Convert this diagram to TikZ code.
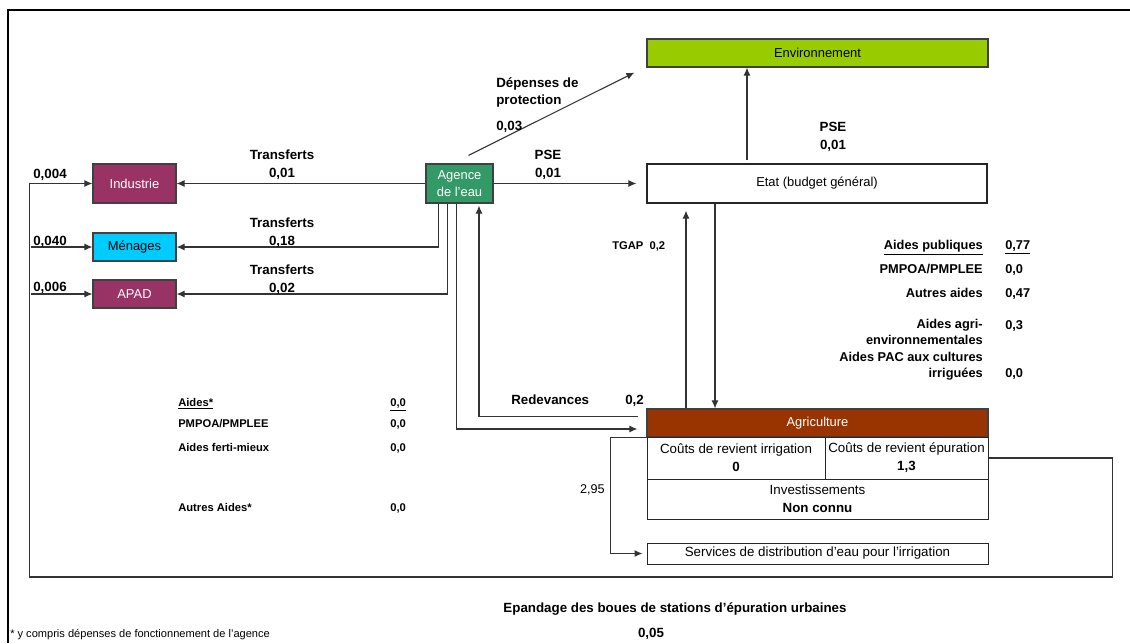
\documentclass[tikz,border=0pt]{standalone}
\usepackage{fontspec}
\setmainfont{Liberation Sans}
\usetikzlibrary{arrows.meta,calc}
\definecolor{purp}{HTML}{993366}
\definecolor{cyanb}{HTML}{00CCFF}
\definecolor{agreen}{HTML}{339966}
\definecolor{envg}{HTML}{99CC00}
\definecolor{agrr}{HTML}{993300}
\definecolor{lin}{HTML}{333333}
\begin{document}
\begin{tikzpicture}[x=0.75pt,y=-0.75pt,
  box/.style={draw=black!75, line width=0.9pt, inner sep=0pt, align=center, font=\fontsize{9.7}{12.75}\selectfont},
  cell/.style={draw=black!85, line width=0.75pt, inner sep=0pt, align=center, font=\fontsize{10}{13.5}\selectfont},
  conn/.style={draw=lin, line width=0.8pt},
  arr/.style={conn, -{Latex[length=6pt,width=5.2pt]}},
  t/.style={inner sep=0pt, text height=7pt, text depth=0pt, font=\bfseries\fontsize{10}{12}\selectfont},
  tm/.style={t, font=\bfseries\fontsize{9.6}{11}\selectfont},
  ts/.style={t, font=\bfseries\fontsize{8.4}{10}\selectfont},
  tr/.style={inner sep=0pt, text height=7pt, text depth=0pt, font=\fontsize{9.5}{11}\selectfont}
]
\useasboundingbox (0,0) rectangle (1130,643);
\fill[white] (0,0) rectangle (1130,643);
% frame
\draw[line width=1.5pt] (8,643) -- (8,10) -- (1130,10);

% boxes
\node[box, fill=purp, text=white, minimum width=62.25pt, minimum height=29.25pt] (Ind) at (134.5,183.5) {Industrie};
\node[box, fill=cyanb, minimum width=62.25pt, minimum height=21pt] (Men) at (134.5,247) {Ménages};
\node[box, fill=purp, text=white, minimum width=62.25pt, minimum height=21pt] (APAD) at (134.5,294) {APAD};
\node[box, fill=agreen, text=white, minimum width=50.25pt, minimum height=29.25pt] (Ag) at (459.5,183.5) {Agence\\de l'eau};
\node[box, draw=black!85, minimum width=255pt, minimum height=29.25pt] (Et) at (817,183.5) {Etat (budget général)};
\node[box, fill=envg, minimum width=255.75pt, minimum height=21pt] (Env) at (817.5,53) {Environnement};
\node[box, fill=agrr, text=white, minimum width=255.75pt, minimum height=21pt] (Agr) at (817.5,423) {Agriculture};
\node[cell, minimum width=133.5pt, minimum height=31.5pt] (Cir) at (736,458) {Coûts de revient irrigation\\\textbf{0}};
\node[cell, minimum width=122.25pt, minimum height=31.5pt] (Cep) at (906.5,458) {Coûts de revient épuration\\\textbf{1,3}};
\node[cell, minimum width=255.75pt, minimum height=30pt] (Inv) at (817.5,499) {Investissements\\\textbf{Non connu}};
\node[cell, minimum width=255.75pt, minimum height=15.75pt] (Serv) at (817.5,553.5) {Services de distribution d'eau pour l'irrigation};

% connectors
\draw[arr] (Ag.west) -- (Ind.east);
\draw[arr] ([xshift=9.75pt]Ag.south west) |- (Men.east);
\draw[arr] ([xshift=16.5pt]Ag.south west) |- (APAD.east);
\draw[arr] (Ag.east) -- ([xshift=-7.5pt]Et.west);
\draw[arr] ($(Ag.north)+(9,-8)$) -- ($(Env.south west)+(-12,5)$);
\draw[arr] ($(Et.north)+(-70,-3)$) coordinate (pe) -- (pe |- Env.south);
\draw[arr] ($(Et.south)+(-102,0)$) coordinate (pd) -- (pd |- Agr.north);
\draw[arr] ($(Agr.north)+(-131.5,0)$) coordinate (pu) -- ($(pu |- Et.south)+(0,7)$);
\draw[arr] ($(Agr.north west)+(-8,8)$) -| ($(Ag.south)+(19.5,2)$);
\draw[arr] ($(Ag.south)+(-3,0)$) |- ($(Agr.west)+(-9,6)$);
\draw[arr] (Agr.south west) -- ($(Agr.south west)+(-36,0)$) |- ($(Serv.west)+(-4,0)$);
\draw[arr] (Cep.east) -| ($(Cep.east)+(124,119)$) -| ($(Ind.west)+(-63,0)$) -- (Ind.west);
\draw[arr] ($(Men.west)+(-61,0)$) -- (Men.west);
\draw[arr] ($(APAD.west)+(-61,0)$) -- (APAD.west);

% labels
\node[t] (l1a) at (282,155) {Transferts};
\node[t] (l1b) at (282,173) {0,01};
\node[t] (l2a) at (282,223) {Transferts};
\node[t] (l2b) at (282,241) {0,18};
\node[t] (l3a) at (282,270) {Transferts};
\node[t] (l3b) at (282,288) {0,02};
\node[t] (v1) at (50,174) {0,004};
\node[t] (v2) at (50,241) {0,040};
\node[t] (v3) at (50,287) {0,006};
\node[t] (p1a) at (548,155) {PSE};
\node[t] (p1b) at (548,173) {0,01};
\node[t, anchor=west] (d1) at (496,83) {Dépenses de};
\node[t, anchor=west] (d2) at (496,100) {protection};
\node[t, anchor=west] (d3) at (496,126) {0,03};
\node[t] (p2a) at (833,127) {PSE};
\node[t] (p2b) at (833,145) {0,01};
\node[ts, anchor=west] (tg) at (612,245) {TGAP\ \ 0,2};
\node[t, anchor=west] (rd) at (511,400) {Redevances};
\node[t, anchor=west] (rv) at (625,400) {0,2};
\node[tr, anchor=east] (n295) at (605,489) {2,95};

% right aides
\node[tm, anchor=east] (ra1) at (983,245) {\underline{Aides publiques}};
\node[tm, anchor=east] (ra2) at (983,269) {PMPOA/PMPLEE};
\node[tm, anchor=east] (ra3) at (983,293) {Autres aides};
\node[tm, anchor=east] (ra4) at (983,324) {Aides agri-};
\node[tm, anchor=east] (ra5) at (983,340) {environnementales};
\node[tm, anchor=east] (ra6) at (983,357) {Aides PAC aux cultures};
\node[tm, anchor=east] (ra7) at (983,373) {irriguées};
\node[tm, anchor=west] (rv1) at (1005,245) {\underline{0,77}};
\node[tm, anchor=west] (rv2) at (1005,269) {0,0};
\node[tm, anchor=west] (rv3) at (1005,293) {0,47};
\node[tm, anchor=west] (rv4) at (1005,325) {0,3};
\node[tm, anchor=west] (rv7) at (1005,373) {0,0};

% left aides
\node[ts, anchor=west] (la1) at (178,402) {\underline{Aides*}};
\node[ts, anchor=west] (la2) at (178,423) {PMPOA/PMPLEE};
\node[ts, anchor=west] (la3) at (178,447) {Aides ferti-mieux};
\node[ts, anchor=west] (la4) at (178,507) {Autres Aides*};
\node[ts, anchor=west] (lv1) at (390,402) {\underline{0,0}};
\node[ts, anchor=west] (lv2) at (390,423) {0,0};
\node[ts, anchor=west] (lv3) at (390,447) {0,0};
\node[ts, anchor=west] (lv4) at (390,507) {0,0};

% footer
\node[t] (ep) at (675,608) {Epandage des boues de stations d'épuration urbaines};
\node[t] (ev) at (651,633) {0,05};
\node[inner sep=0pt, text height=6pt, text depth=0pt, anchor=west, font=\fontsize{8.3}{10}\selectfont] (fn) at (10,633) {* y compris dépenses de fonctionnement de l'agence};
\end{tikzpicture}
\end{document}
